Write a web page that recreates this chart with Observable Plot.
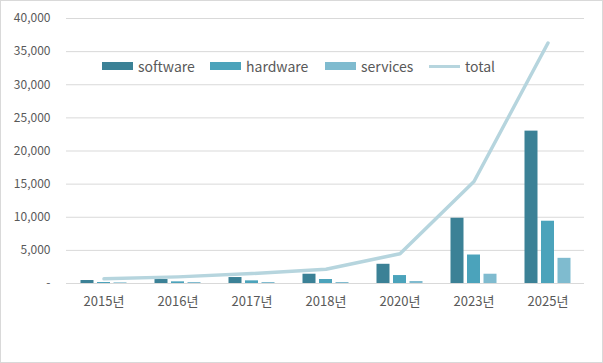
<!DOCTYPE html>
<html>
<head>
<meta charset="utf-8">
<script src="https://cdn.jsdelivr.net/npm/d3@7"></script>
<script src="https://cdn.jsdelivr.net/npm/@observablehq/plot@0.6"></script>
<style>
  html, body { margin: 0; padding: 0; background: #fff; }
  #wrap { position: relative; width: 601px; height: 361px; border: 1px solid #d9d9d9; background: #fff; font-family: "Noto Sans CJK KR", "Noto Sans", sans-serif; }
  #legend { position: absolute; left: 0; top: 0; width: 601px; height: 30px; pointer-events: none; }
  .item { position: absolute; top: 55px; display: flex; align-items: center; font-size: 14px; color: #595959; line-height: 20px; }
  .sw { display: inline-block; width: 31px; height: 8px; margin-right: 5px; }
  .ln { display: inline-block; width: 31px; height: 3px; margin-right: 5px; }
</style>
</head>
<body>
<div id="wrap">
  <div id="chart"></div>
  <div id="legend"></div>
</div>
<script>
const years = ["2015년", "2016년", "2017년", "2018년", "2020년", "2023년", "2025년"];
const software = [450, 600, 900, 1400, 2900, 9850, 23000];
const hardware = [150, 250, 400, 600, 1200, 4300, 9400];
const services = [100, 150, 150, 150, 300, 1400, 3800];
const total = [700, 1000, 1500, 2150, 4500, 15400, 36300];
const yTicks = [0, 5000, 10000, 15000, 20000, 25000, 30000, 35000, 40000];

const seriesNames = ["software", "hardware", "services", "total"];
const colors = ["#3b8196", "#4ba3bb", "#7fbbcf", "#b6d5de"];

const rows = years.map((y, i) => ({year: y, software: software[i], hardware: hardware[i], services: services[i], total: total[i]}));

const chart = Plot.plot({
  width: 601,
  height: 361,
  marginLeft: 65,
  marginRight: 18,
  marginTop: 17,
  marginBottom: 79,
  style: {fontFamily: '"Noto Sans CJK KR", "Noto Sans", sans-serif', fontSize: "12px", color: "#595959", background: "white"},
  x: {type: "band", domain: years, paddingInner: 1 - 13 / 74, paddingOuter: (1 - 13 / 74) / 2, label: null},
  y: {domain: [0, 40000], label: null},
  marks: [
    Plot.ruleY(yTicks, {stroke: "#d9d9d9", strokeWidth: 1}),
    Plot.axisY({ticks: yTicks, tickSize: 0, tickPadding: 16, tickFormat: d => d === 0 ? "-" : d3.format(",")(d), label: null, fill: "#595959", fontSize: 12}),
    Plot.axisX({tickSize: 0, tickPadding: 13, label: null, fill: "#595959", fontSize: 13}),
    Plot.barY(rows, {x: "year", y: "software", fill: colors[0], dx: -16.5}),
    Plot.barY(rows, {x: "year", y: "hardware", fill: colors[1], dx: 0}),
    Plot.barY(rows, {x: "year", y: "services", fill: colors[2], dx: 16.5}),
    Plot.lineY(rows, {x: "year", y: "total", stroke: colors[3], strokeWidth: 3.5, curve: "linear"})
  ]
});
document.getElementById("chart").appendChild(chart);

// legend
const legend = document.getElementById("legend");
const lefts = [101, 209, 324, 428];
seriesNames.forEach((name, i) => {
  const item = document.createElement("div");
  item.className = "item";
  item.style.left = lefts[i] + "px";
  const sw = document.createElement("span");
  sw.className = i === 3 ? "ln" : "sw";
  sw.style.background = colors[i];
  const t = document.createElement("span");
  t.textContent = name;
  item.appendChild(sw);
  item.appendChild(t);
  legend.appendChild(item);
});
</script>
</body>
</html>
